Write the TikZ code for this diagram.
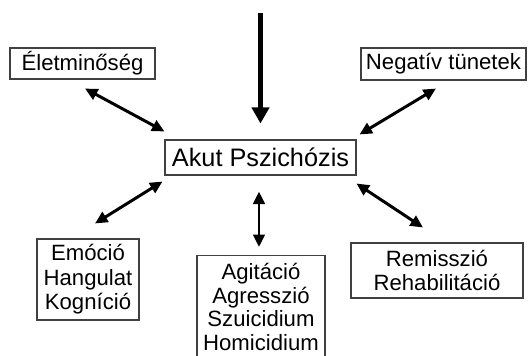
\documentclass[tikz,border=0pt]{standalone}
\usepackage{fontspec}
\setmainfont{Liberation Sans}
\usetikzlibrary{arrows.meta}
\tikzstyle{box} = [rectangle, draw=black!75, line width=0.6pt, align=center, inner sep=0pt, font=\fontsize{12.6}{14}\selectfont]
\tikzstyle{arrow} = [line width=1.7pt, {Triangle[length=2.5mm,width=2.3mm]}-{Triangle[length=2.5mm,width=2.3mm]}]
\tikzstyle{bigarrow} = [line width=3.4pt, -{Triangle[length=3.2mm,width=3.4mm]}]

\begin{document}
\begin{tikzpicture}[x=0.02cm, y=-0.02cm]
\useasboundingbox (0,0) rectangle (529,356);
\node (akut) [box, minimum width=3.82cm, minimum height=0.7cm, font=\fontsize{14.4}{16}\selectfont] at (260.5,157.5) {Akut Pszichózis};
\node (elet) [box, minimum width=2.9cm, minimum height=0.62cm] at (82.5,63.5) {Életminőség};
\node (neg) [box, minimum width=3.3cm, minimum height=0.64cm] at (443.5,64) {Negatív tünetek};
\node (emo) [box, minimum width=2.04cm, minimum height=1.62cm] at (88,279.5) {Emóció\\Hangulat\\Kogníció};
\node (agi) [box, minimum width=2.56cm, inner ysep=0.16cm, anchor=north, font=\fontsize{12.6}{13.4}\selectfont] at (261,255) {Agitáció\\Agresszió\\Szuicidium\\Homicidium\\[3pt]};
\node (rem) [box, minimum width=3.44cm, minimum height=1.1cm] at (437,270.5) {Remisszió\\Rehabilitáció};
\coordinate (top) at (260.5,13);

\draw [bigarrow] (top) -- ([shift={(0,-16)}]akut.north);
\draw [arrow] ([shift={(2.5,9)}]elet.south) -- ([shift={(0,-8)}]akut.north west);
\draw [arrow] ([shift={(-7.5,8)}]neg.south) -- ([shift={(3,-5)}]akut.north east);
\draw [arrow] ([shift={(7,-15)}]emo.north) -- ([shift={(-2,6)}]akut.south west);
\draw [arrow] ([shift={(-2,-8)}]agi.north) -- ([shift={(-1.5,16)}]akut.south);
\draw [arrow] ([shift={(-14,-15)}]rem.north) -- ([shift={(0,8)}]akut.south east);
\end{tikzpicture}
\end{document}
